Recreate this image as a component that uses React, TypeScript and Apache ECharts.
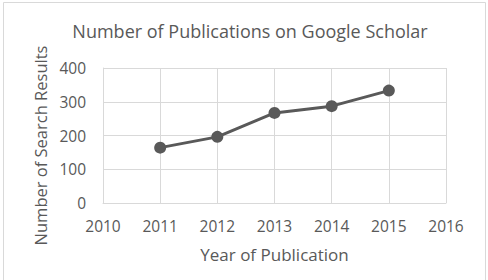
import React, { useEffect, useRef } from "react";
import * as echarts from "echarts";

const titleText = "Number of Publications on Google Scholar";
const xAxisName = "Year of Publication";
const yAxisName = "Number of Search Results";
const years = [2011, 2012, 2013, 2014, 2015];
const counts = [164, 196, 267, 287, 333];

const FONT = "Open Sans";
const TEXT = "#595959";
const GRID = "#d9d9d9";

export default function App() {
  const ref = useRef<HTMLDivElement>(null);
  useEffect(() => {
    if (!ref.current) return;
    const chart = echarts.init(ref.current, undefined, { renderer: "svg" });
    chart.setOption({
      animation: false,
      backgroundColor: "#ffffff",
      textStyle: { fontFamily: FONT },
      title: {
        text: titleText,
        left: 245,
        top: 17,
        textAlign: "center",
        textStyle: { fontFamily: FONT, fontSize: 18, fontWeight: "normal", color: TEXT },
      },
      graphic: [
        {
          type: "rect",
          shape: { x: 3.5, y: 2.5, width: 482, height: 290 },
          style: { fill: "none", stroke: GRID, lineWidth: 1 },
          silent: true,
        },
      ],
      grid: { left: 103, right: 42, top: 68, bottom: 77, containLabel: false },
      xAxis: {
        type: "value",
        min: 2010,
        max: 2016,
        interval: 1,
        name: xAxisName,
        nameLocation: "middle",
        nameGap: 43,
        nameTextStyle: { fontFamily: FONT, fontSize: 17, color: TEXT },
        axisLine: { show: true, lineStyle: { color: GRID, width: 1 } },
        axisTick: { show: false },
        axisLabel: {
          fontFamily: FONT,
          fontSize: 15.5,
          color: TEXT,
          margin: 15,
          formatter: (v: number) => String(v),
        },
        splitLine: { show: true, lineStyle: { color: GRID, width: 1 } },
      },
      yAxis: {
        type: "value",
        min: 0,
        max: 400,
        interval: 100,
        name: yAxisName,
        nameLocation: "middle",
        nameGap: 51,
        nameRotate: 90,
        nameTextStyle: { fontFamily: FONT, fontSize: 16.5, color: TEXT, padding: [0, 20, 0, 0] },
        axisLine: { show: true, lineStyle: { color: GRID, width: 1 } },
        axisTick: { show: false },
        axisLabel: { fontFamily: FONT, fontSize: 15.5, color: TEXT, margin: 17 },
        splitLine: { show: true, lineStyle: { color: GRID, width: 1 } },
      },
      series: [
        {
          type: "line",
          data: years.map((y, i) => [y, counts[i]]),
          symbol: "circle",
          symbolSize: 12,
          lineStyle: { color: TEXT, width: 3 },
          itemStyle: { color: TEXT },
        },
      ],
    });
    return () => chart.dispose();
  }, []);
  return (
    <div
      ref={ref}
      style={{ position: "fixed", left: 0, top: 0, width: 488, height: 280, background: "#fff" }}
    />
  );
}
